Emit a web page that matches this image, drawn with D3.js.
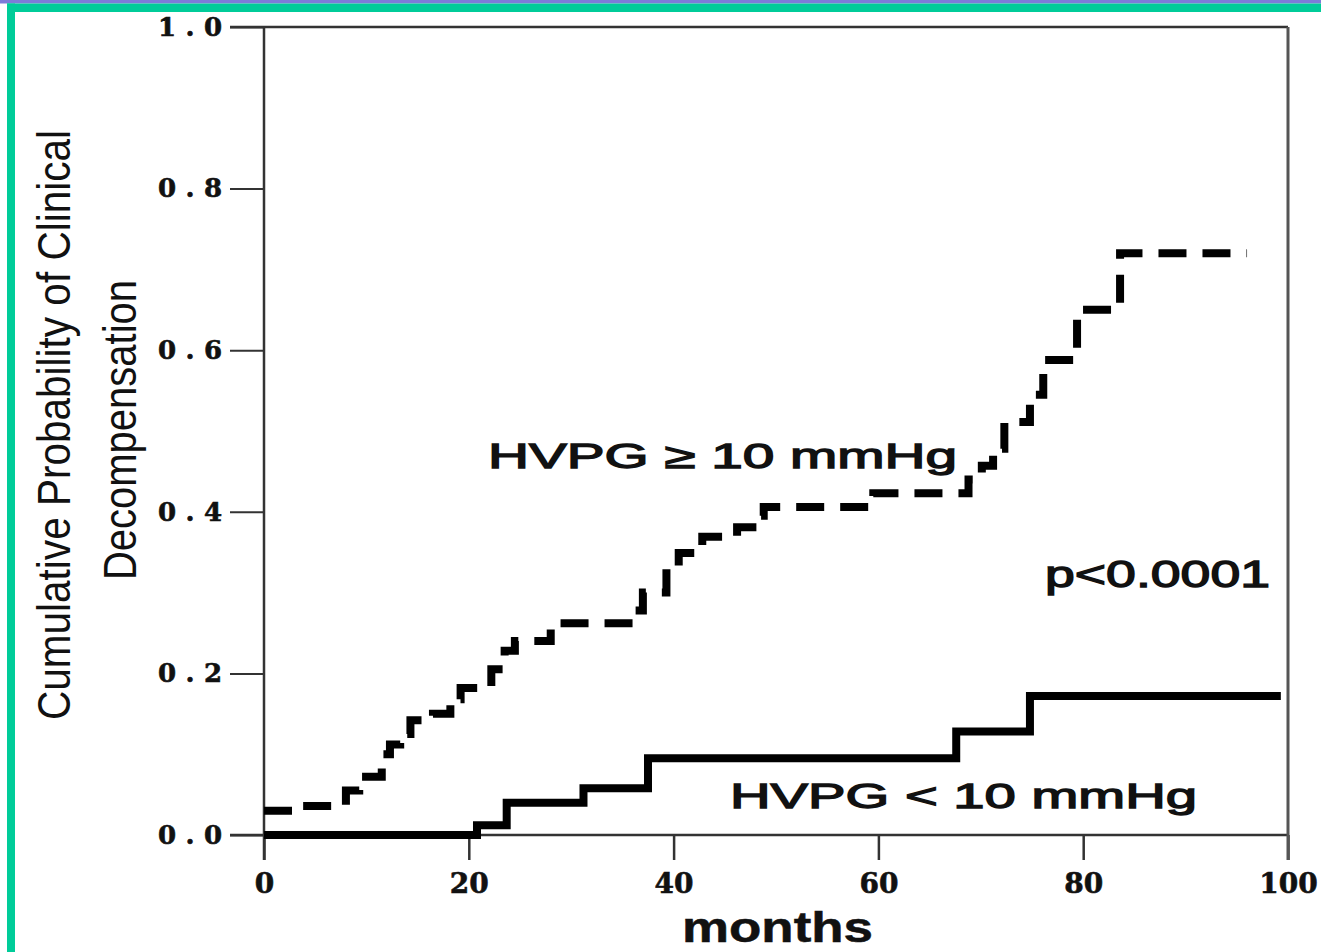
<!DOCTYPE html>
<html>
<head>
<meta charset="utf-8">
<script src="https://cdn.jsdelivr.net/npm/d3@7"></script>
<style>
  html, body { margin: 0; padding: 0; background: #fff; }
  svg { display: block; }
</style>
</head>
<body>
<svg id="chart" width="1321" height="952"></svg>
<script>
// ---- data ----
const highMonths = [0, 3.5, 8, 9.3, 11.5, 12.3, 13.3, 14.3, 16.5, 18.2, 19.2, 22.2, 23.5, 24.5, 28, 36, 37, 39.3, 40.5, 42.8, 46.2, 48.5, 48.8, 59.5, 68.8, 70.1, 71.2, 72.3, 74.8, 76.1, 79.4, 83.6, 96];
const highValues = [0.03, 0.036, 0.055, 0.072, 0.10, 0.112, 0.125, 0.142, 0.15, 0.168, 0.182, 0.205, 0.228, 0.24, 0.262, 0.278, 0.30, 0.33, 0.349, 0.369, 0.381, 0.395, 0.406, 0.423, 0.44, 0.457, 0.478, 0.511, 0.545, 0.588, 0.65, 0.72, 0.72];
const lowMonths = [0, 20.8, 23.7, 31.2, 37.5, 67.6, 74.8, 99.3];
const lowValues = [0, 0.012, 0.04, 0.058, 0.095, 0.128, 0.172, 0.172];
const xTicks = [0, 20, 40, 60, 80, 100];
const yTicks = [0, 0.2, 0.4, 0.6, 0.8, 1.0];
const yTickLabels = ["0.0", "0.2", "0.4", "0.6", "0.8", "1.0"];
const yTitle = ["Cumulative Probability of Clinical", "Decompensation"];
const xTitle = "months";
const labelHigh = "HVPG \u2265 10 mmHg";
const labelLow = "HVPG < 10 mmHg";
const pText = "p<0.0001";

const svg = d3.select("#chart");
const W = 1321, H = 952;

// frame decorations
svg.append("rect").attr("x", 0).attr("y", 0).attr("width", W).attr("height", H).attr("fill", "#fff");
svg.append("rect").attr("x", 0).attr("y", 0).attr("width", W).attr("height", 3.5).attr("fill", "#7d7bd8");
svg.append("rect").attr("x", 7).attr("y", 3.5).attr("width", W - 7).attr("height", 8.5).attr("fill", "#00cc99");
svg.append("rect").attr("x", 7).attr("y", 3.5).attr("width", 8).attr("height", H).attr("fill", "#00cc99");

const x = d3.scaleLinear().domain([0, 100]).range([264, 1288]);
const y = d3.scaleLinear().domain([0, 1]).range([835, 27]);

const axisColor = "#333";

// y axis
const yAxis = d3.axisLeft(y).tickValues(yTicks).tickSize(34).tickSizeOuter(0).tickPadding(8)
  .tickFormat((d, i) => yTickLabels[i]);
const gy = svg.append("g").attr("transform", `translate(${x(0)},0)`).call(yAxis);
gy.select(".domain").remove();
gy.selectAll(".tick line").attr("stroke", axisColor).attr("stroke-width", 2);
gy.selectAll(".tick text")
  .attr("font-family", "DejaVu Serif").attr("font-weight", "bold").attr("font-size", 26)
  .attr("fill", "#111").attr("stroke", "#111").attr("stroke-width", 0.6)
  .attr("textLength", 64).attr("lengthAdjust", "spacing");

// x axis
const xAxis = d3.axisBottom(x).tickValues(xTicks).tickSize(25).tickSizeOuter(0).tickPadding(13)
  .tickFormat(d3.format("d"));
const gx = svg.append("g").attr("transform", `translate(0,${y(0)})`).call(xAxis);
gx.select(".domain").remove();
gx.selectAll(".tick line").attr("stroke", axisColor).attr("stroke-width", 2.5);
gx.selectAll(".tick text")
  .attr("font-family", "DejaVu Serif").attr("font-weight", "bold").attr("font-size", 28)
  .attr("fill", "#111").attr("stroke", "#111").attr("stroke-width", 0.6);

// box
svg.append("line").attr("x1", x(0)).attr("x2", x(0)).attr("y1", y(1)).attr("y2", y(0) + 25)
  .attr("stroke", axisColor).attr("stroke-width", 2.5);
svg.append("line").attr("x1", x(0) - 34).attr("x2", x(100)).attr("y1", y(1)).attr("y2", y(1))
  .attr("stroke", axisColor).attr("stroke-width", 2.5);
svg.append("line").attr("x1", x(0) - 34).attr("x2", x(100)).attr("y1", y(0)).attr("y2", y(0))
  .attr("stroke", axisColor).attr("stroke-width", 2.5);
svg.append("line").attr("x1", x(100)).attr("x2", x(100)).attr("y1", y(1)).attr("y2", y(0) + 25)
  .attr("stroke", "#555").attr("stroke-width", 3);

// curves
const line = d3.line().x(d => x(d[0])).y(d => y(d[1])).curve(d3.curveStepAfter);
const lowData = lowMonths.map((m, i) => [m, lowValues[i]]);
const highData = highMonths.map((m, i) => [m, highValues[i]]);

svg.append("path").datum(lowData).attr("d", line)
  .attr("fill", "none").attr("stroke", "#000").attr("stroke-width", 8)
  .attr("stroke-linejoin", "miter");
svg.append("path").datum(highData).attr("d", line)
  .attr("fill", "none").attr("stroke", "#000").attr("stroke-width", 8)
  .attr("stroke-dasharray", "28,16");

// text labels
const sans = "Liberation Sans, Arial, sans-serif";
function label(t, xx, yy, size, len, bold) {
  return svg.append("text").attr("x", xx).attr("y", yy).text(t)
    .attr("font-family", sans).attr("font-size", size).attr("fill", "#111")
    .attr("font-weight", bold ? "bold" : "normal")
    .attr("stroke", "#111").attr("stroke-width", bold ? 0.5 : 1.3)
    .attr("textLength", len).attr("lengthAdjust", "spacingAndGlyphs");
}
label(labelHigh, 488, 468, 35, 469, false);
label(labelLow, 730, 808, 35, 467, false);
label(pText, 1045, 587, 36, 225, false);
label(xTitle, 682, 942, 43, 191, true);

svg.append("text").attr("transform", "translate(70,425) rotate(-90)")
  .attr("text-anchor", "middle").text(yTitle[0])
  .attr("font-family", sans).attr("font-size", 47).attr("fill", "#111")
  .attr("textLength", 590).attr("lengthAdjust", "spacingAndGlyphs");
svg.append("text").attr("transform", "translate(136,430) rotate(-90)")
  .attr("text-anchor", "middle").text(yTitle[1])
  .attr("font-family", sans).attr("font-size", 47).attr("fill", "#111")
  .attr("textLength", 300).attr("lengthAdjust", "spacingAndGlyphs");
</script>
</body>
</html>
